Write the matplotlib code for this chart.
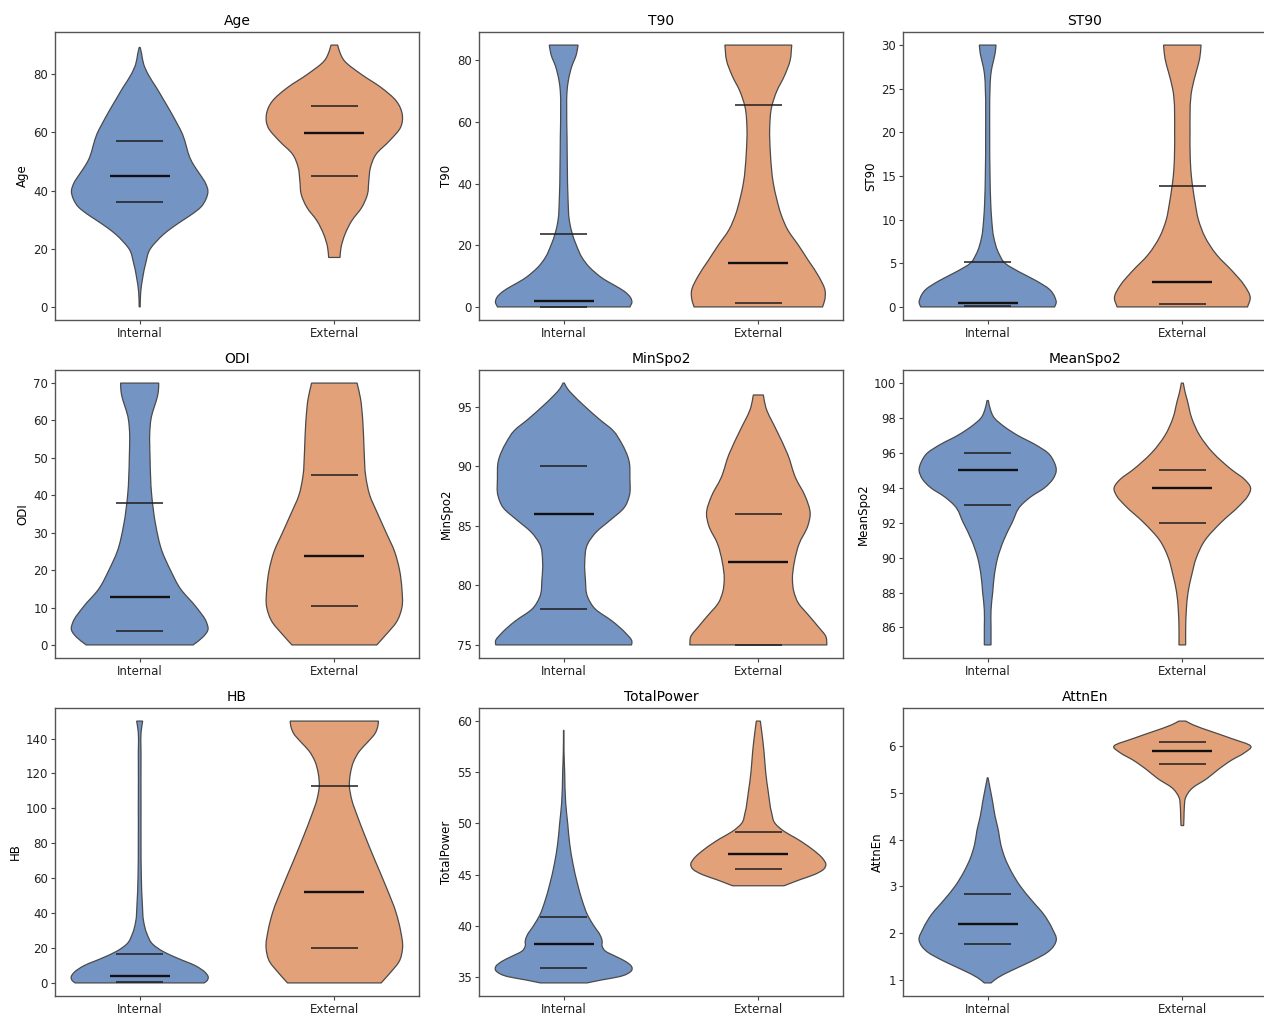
import numpy as np
import matplotlib
matplotlib.use("Agg")
import matplotlib.pyplot as plt
from matplotlib.path import Path
from matplotlib.patches import PathPatch

groups = ['Internal', 'External']

# density profiles: (value, relative half width)
age_int = [(0, 1.5), (5, 3), (10, 9), (15, 18), (20, 32), (22.5, 50), (25, 72), (27.5, 100),
           (30, 132), (32, 158), (34.2, 182), (37, 198), (39.9, 204), (42.5, 197), (45.6, 180),
           (48.5, 163), (51.3, 150), (55, 140), (59.4, 128), (63, 112), (67.4, 91), (71.5, 70),
           (75.4, 50), (80, 25), (83.4, 12), (86.9, 6), (89.2, 1.5)]
age_ext = [(17, 17), (20.4, 20), (25, 32), (29.6, 52), (34.2, 82), (38.7, 99), (43.3, 103),
           (47.9, 108), (52.5, 125), (57.1, 165), (61.7, 198), (66.2, 203), (70.8, 185),
           (75.4, 140), (80, 80), (84.6, 30), (88, 15), (90, 10)]
age_q = [[36, 45, 57], [44.9, 59.9, 69]]

t90_int = [(0, 198), (1.5, 204), (3, 200), (5, 182), (7, 152), (9, 120), (11, 96), (13, 76),
           (16, 55), (20, 38), (24, 25), (28, 17), (35, 13), (45, 11), (55, 10), (65, 9),
           (70, 10), (73.5, 14), (78, 24), (82, 38), (85, 43)]
t90_ext = [(0, 192), (2, 198), (5, 200), (10, 180), (15, 150), (20, 120), (25, 88), (30, 68),
           (35, 55), (40, 45), (50, 36), (58, 34), (65, 40), (70, 55), (75, 78), (80, 95), (85, 100)]
t90_q = [[0.1, 1.95, 23.6], [1.4, 14.4, 65.5]]

st90_int = [(0, 200), (0.5, 205), (1, 202), (2, 185), (3, 145), (4, 95), (5, 52), (6, 35),
            (8, 18), (10, 12), (12, 9), (15, 7), (20, 6), (25, 7), (26.5, 9), (27.5, 13),
            (29, 22), (30, 25)]
st90_ext = [(0, 195), (1, 203), (2.5, 185), (4, 152), (6, 102), (8, 68), (10, 48), (12, 38),
            (15, 27), (20, 23), (25, 29), (27, 42), (28.5, 52), (30, 56)]
st90_q = [[0.08, 0.42, 5.1], [0.3, 2.9, 13.8]]

odi_int = [(0, 160), (2, 188), (4, 204), (6, 200), (10, 170), (15, 122), (20, 92), (25, 67),
           (32, 48), (40, 36), (50, 31), (58, 31), (61, 35), (64, 45), (66.4, 53), (68, 56), (70, 57)]
odi_ext = [(0, 127), (3, 157), (6, 185), (10, 202), (15, 202), (20, 195), (25, 180), (30, 155),
           (35, 130), (40, 106), (45, 94), (52, 89), (60, 85), (66, 78), (70, 68)]
odi_q = [[3.75, 12.9, 37.9], [10.4, 23.8, 45.4]]

minspo2_int = [(75, 203), (75.3, 204), (76, 185), (77, 145), (78, 95), (79, 72), (80.5, 65),
               (82, 63), (83.5, 72), (84.5, 98), (85.5, 140), (86.5, 180), (87.5, 196), (89, 198),
               (90.5, 195), (92, 172), (93, 148), (94, 105), (95, 65), (96, 28), (96.5, 12), (97, 2)]
minspo2_ext = [(75, 205), (75.7, 202), (76.5, 180), (77.5, 150), (78.5, 120), (79.5, 106),
               (80.5, 102), (82, 108), (83.5, 122), (85, 148), (86, 155), (87.5, 140), (89, 112),
               (91, 88), (93, 55), (95, 22), (96, 15)]
minspo2_q = [[78, 86, 90], [75, 82, 86]]

meanspo2_int = [(85, 10), (86, 10), (87, 10), (88, 15), (89, 20), (90, 30), (91, 48), (92, 73),
                (93, 100), (93.5, 130), (94, 170), (94.5, 195), (95, 205), (95.5, 198), (96, 180),
                (96.5, 140), (97, 90), (97.5, 50), (98, 20), (98.5, 8), (99, 2)]
meanspo2_ext = [(85, 10), (86, 10), (87, 12), (88, 17), (89, 28), (90, 42), (91, 68), (92, 115),
                (93, 172), (93.5, 195), (94, 204), (94.5, 185), (95, 150), (96, 92), (97, 52),
                (98, 28), (99, 15), (99.5, 8), (100, 3)]
meanspo2_q = [[93, 95, 96], [92, 94, 95]]

hb_int = [(0, 193), (1, 200), (3, 205), (6, 196), (10, 165), (14, 115), (18, 70), (22, 40),
          (28, 22), (35, 12), (45, 8), (60, 5), (80, 4), (100, 4), (130, 4), (145, 5), (150, 9)]
hb_ext = [(0, 140), (6, 168), (12, 193), (20, 204), (30, 198), (40, 185), (55, 155), (70, 122),
          (85, 90), (95, 70), (105, 52), (113, 45), (120, 48), (127, 58), (133, 76), (138, 100),
          (143, 122), (147, 130), (150, 132)]
hb_q = [[0.6, 4.0, 16.3], [20.1, 51.8, 112.6]]

tp_int = [(34.4, 70), (34.7, 115), (35, 165), (35.5, 200), (36, 203), (36.5, 185), (37, 155),
          (37.5, 125), (38, 115), (38.5, 115), (39, 110), (40, 90), (41, 72), (42.5, 55),
          (44, 42), (46, 28), (48, 18), (50, 12), (52, 6), (55, 3), (57, 1), (59.1, 0.5)]
tp_ext = [(43.9, 77), (44.5, 125), (45, 168), (45.5, 195), (46, 202), (46.5, 194), (47.5, 160),
          (48.5, 115), (49.2, 78), (50, 50), (51, 40), (53, 30), (55, 22), (57, 17), (59, 10), (60, 6)]
tp_q = [[35.85, 38.2, 40.8], [45.55, 47.0, 49.2]]

attn_int = [(0.94, 10), (1.05, 30), (1.2, 70), (1.4, 130), (1.6, 180), (1.85, 205), (2.1, 193),
            (2.4, 168), (2.7, 132), (3.0, 98), (3.3, 72), (3.6, 52), (3.9, 39), (4.2, 32),
            (4.5, 22), (4.8, 15), (5.1, 7), (5.32, 1)]
attn_ext = [(4.3, 4), (4.5, 5), (4.7, 6), (4.9, 10), (5.1, 30), (5.3, 73), (5.5, 108), (5.7, 148),
            (5.85, 185), (6.0, 204), (6.15, 150), (6.3, 90), (6.45, 32), (6.53, 10)]
attn_q = [[1.78, 2.2, 2.84], [5.61, 5.89, 6.09]]

panels = [
    ('Age', age_int, age_ext, age_q),
    ('T90', t90_int, t90_ext, t90_q),
    ('ST90', st90_int, st90_ext, st90_q),
    ('ODI', odi_int, odi_ext, odi_q),
    ('MinSpo2', minspo2_int, minspo2_ext, minspo2_q),
    ('MeanSpo2', meanspo2_int, meanspo2_ext, meanspo2_q),
    ('HB', hb_int, hb_ext, hb_q),
    ('TotalPower', tp_int, tp_ext, tp_q),
    ('AttnEn', attn_int, attn_ext, attn_q),
]

colors = ['#7494c4', '#e3a17a']
WSCALE = 1 / 582.0


def side(v, w, m, pos, sgn):
    # bezier pieces along one side of the violin, in order of v
    verts = []
    for i in range(len(v) - 1):
        dv = v[i + 1] - v[i]
        verts.append((pos + sgn * max(w[i] + m[i] * dv / 3, 0), v[i] + dv / 3))
        verts.append((pos + sgn * max(w[i + 1] - m[i + 1] * dv / 3, 0), v[i + 1] - dv / 3))
        verts.append((pos + sgn * w[i + 1], v[i + 1]))
    return verts


def violin_patch(prof, pos, color):
    v = np.array([p[0] for p in prof], float)
    w = np.array([p[1] for p in prof], float) * WSCALE
    m = np.gradient(w, v)  # centred slopes -> smooth outline
    right = side(v, w, m, pos, 1)
    left = side(v[::-1], w[::-1], m[::-1], pos, -1)
    n = len(right)
    verts = [(pos + w[0], v[0])] + right + [(pos - w[-1], v[-1])] + left + [(pos + w[0], v[0])]
    codes = ([Path.MOVETO] + [Path.CURVE4] * n + [Path.LINETO]
             + [Path.CURVE4] * n + [Path.CLOSEPOLY])
    return PathPatch(Path(verts, codes), facecolor=color, edgecolor='#4a4a4a', lw=0.9, zorder=2)


fig = plt.figure(figsize=(12.64, 10.16), dpi=100)
W, H = 1264.0, 1016.0
lefts = [55, 479, 903]
tops = [32, 370, 708]
aw, ah = 364, 288

for k, (name, p_int, p_ext, quarts) in enumerate(panels):
    r, c = divmod(k, 3)
    ax = fig.add_axes([lefts[c] / W, 1 - (tops[r] + ah) / H, aw / W, ah / H])
    lo, hi = None, None
    for i, prof in enumerate([p_int, p_ext]):
        ax.add_patch(violin_patch(prof, i, colors[i]))
        vals = [p[0] for p in prof]
        lo = min(vals) if lo is None else min(lo, min(vals))
        hi = max(vals) if hi is None else max(hi, max(vals))
        q1, med, q3 = quarts[i]
        ax.hlines([q1, q3], i - 0.12, i + 0.12, color='#1e1e1e', lw=1.1, zorder=3)
        ax.hlines(med, i - 0.155, i + 0.155, color='#111111', lw=1.7, zorder=3)
    pad = 0.05 * (hi - lo)
    ax.set_ylim(lo - pad, hi + pad)
    ax.set_xlim(-0.435, 1.435)
    ax.set_xticks([0, 1])
    ax.set_xticklabels(groups)
    ax.set_title(name, fontsize=10, pad=5)
    ax.set_ylabel(name, fontsize=8.5, labelpad=3)
    ax.tick_params(labelsize=8.5, length=3, pad=2, color='#444444', labelcolor='#222222')
    for s in ax.spines.values():
        s.set_color('#555555')
        s.set_linewidth(1.0)

fig.savefig('out.png', dpi=100)
